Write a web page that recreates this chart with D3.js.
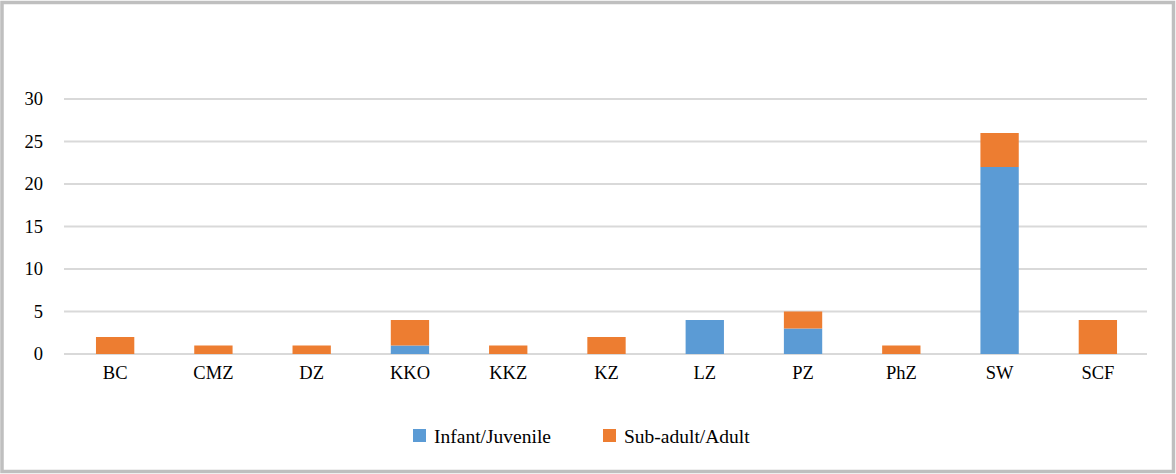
<!DOCTYPE html>
<html>
<head>
<meta charset="utf-8">
<script src="https://cdn.jsdelivr.net/npm/d3@7"></script>
<style>
  body { margin: 0; background: #fff; }
  svg { display: block; }
</style>
</head>
<body>
<div id="chart"></div>
<script>
const width = 1176;
const height = 474;
const margin = { top: 99, right: 29, bottom: 120, left: 66 };
const fontFamily = "'Liberation Serif', 'Times New Roman', serif";

// données
const sites = ['BC', 'CMZ', 'DZ', 'KKO', 'KKZ', 'KZ', 'LZ', 'PZ', 'PhZ', 'SW', 'SCF'];
const infantJuvenile = [0, 0, 0, 1, 0, 0, 4, 3, 0, 22, 0];
const subAdultAdult = [2, 1, 1, 3, 1, 2, 0, 2, 1, 4, 4];
const seriesNames = ['Infant/Juvenile', 'Sub-adult/Adult'];
const yTicks = [0, 5, 10, 15, 20, 25, 30];
const colors = ['#5b9bd5', '#ed7d31'];

const rows = sites.map((s, i) => ({
  site: s,
  'Infant/Juvenile': infantJuvenile[i],
  'Sub-adult/Adult': subAdultAdult[i]
}));

const svg = d3.select('#chart')
  .append('svg')
  .attr('width', width)
  .attr('height', height)
  .style('font-family', fontFamily);

// cadre
svg.append('rect')
  .attr('x', 2)
  .attr('y', 2.5)
  .attr('width', width - 4.5)
  .attr('height', height - 5)
  .attr('fill', '#fff')
  .attr('stroke', '#bfbfbf')
  .attr('stroke-width', 3.5);

const x = d3.scaleBand()
  .domain(sites)
  .range([margin.left, width - margin.right])
  .paddingInner(0.61)
  .paddingOuter(0.305);

const y = d3.scaleLinear()
  .domain([0, 30])
  .range([height - margin.bottom, margin.top]);

// grille
svg.append('g')
  .selectAll('line')
  .data(yTicks)
  .join('line')
  .attr('x1', margin.left - 2)
  .attr('x2', width - margin.right)
  .attr('y1', d => y(d))
  .attr('y2', d => y(d))
  .attr('stroke', '#d9d9d9')
  .attr('stroke-width', 2);

// axe vertical
svg.append('g')
  .attr('transform', `translate(${margin.left - 23}, 0)`)
  .call(d3.axisLeft(y).tickValues(yTicks).tickSize(0).tickPadding(0))
  .call(g => g.select('.domain').remove())
  .call(g => g.attr('font-family', null))
  .call(g => g.selectAll('text')
    .style('font-family', fontFamily)
    .style('font-size', '18.5px')
    .attr('fill', '#000'));

// barres empilées
const stack = d3.stack().keys(seriesNames)(rows);

svg.append('g')
  .selectAll('g')
  .data(stack)
  .join('g')
  .attr('fill', (d, i) => colors[i])
  .selectAll('rect')
  .data(d => d)
  .join('rect')
  .attr('x', d => x(d.data.site))
  .attr('width', x.bandwidth())
  .attr('y', d => y(d[1]))
  .attr('height', d => y(d[0]) - y(d[1]));

// axe horizontal
svg.append('g')
  .attr('transform', `translate(0, ${y(0) + 12})`)
  .call(d3.axisBottom(x).tickSize(0).tickPadding(0))
  .call(g => g.select('.domain').remove())
  .call(g => g.attr('font-family', null))
  .call(g => g.selectAll('text')
    .attr('dy', '0.71em')
    .style('font-family', fontFamily)
    .style('font-size', '18.5px')
    .attr('fill', '#000'));

// légende
const legend = svg.append('g')
  .attr('transform', 'translate(413, 436)');

const legendX = [0, 190];
const item = legend.selectAll('g')
  .data(seriesNames)
  .join('g')
  .attr('transform', (d, i) => `translate(${legendX[i]}, 0)`);

item.append('rect')
  .attr('x', 0)
  .attr('y', -7)
  .attr('width', 13)
  .attr('height', 13)
  .attr('fill', (d, i) => colors[i]);

item.append('text')
  .attr('x', 21)
  .attr('dy', '0.35em')
  .style('font-family', fontFamily)
  .style('font-size', '19.5px')
  .attr('fill', '#000')
  .text(d => d);
</script>
</body>
</html>
